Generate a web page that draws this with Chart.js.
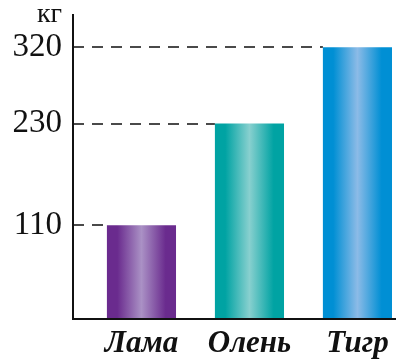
<!DOCTYPE html>
<html lang="ru">
<head>
<meta charset="UTF-8">
<title>Масса животных</title>
<script src="https://cdn.jsdelivr.net/npm/chart.js"></script>
<style>
  html, body { margin: 0; padding: 0; background: #fff; }
  #wrap { width: 396px; height: 362px; }
</style>
</head>
<body>
<div id="wrap"><canvas id="massChart" width="396" height="362"></canvas></div>
<script>
// data
const animals = ['Лама', 'Олень', 'Тигр'];
const masses = [110, 230, 320];
const tickValues = [110, 230, 320];
const unitLabel = 'кг';
const yTop = 358;

// bar colours: edge shade and the light stripe in the middle
const barEdge = ['#6a2b8e', '#00a3a3', '#008fd4'];
const barLight = ['#aa91c5', '#88d0cf', '#8cbbe7'];
const BAR_W = 0.64;

function barFill(c) {
  const i = c.dataIndex;
  if (i === undefined) return barEdge[0];
  const chart = c.chart;
  const xs = chart.scales.x;
  if (!chart.chartArea || !xs) return barEdge[i];
  const cx = xs.getPixelForValue(i);
  const half = (xs.getPixelForValue(BAR_W) - xs.getPixelForValue(0)) / 2;
  const g = chart.ctx.createLinearGradient(cx - half, 0, cx + half, 0);
  g.addColorStop(0, barEdge[i]);
  g.addColorStop(0.15, barEdge[i]);
  g.addColorStop(0.5, barLight[i]);
  g.addColorStop(0.85, barEdge[i]);
  g.addColorStop(1, barEdge[i]);
  return g;
}

// dashed guides from the axis to the left side of each bar
const guideLines = {
  id: 'guideLines',
  beforeDatasetsDraw(chart) {
    const ctx = chart.ctx;
    const ys = chart.scales.y;
    const meta = chart.getDatasetMeta(0);
    ctx.save();
    ctx.strokeStyle = '#4a4a4a';
    ctx.lineWidth = 2;
    ctx.setLineDash([11, 8]);
    tickValues.forEach((v, i) => {
      const el = meta.data[i];
      const y = Math.round(ys.getPixelForValue(v));
      ctx.beginPath();
      ctx.moveTo(chart.chartArea.left, y);
      ctx.lineTo(el.x - el.width / 2, y);
      ctx.stroke();
    });
    ctx.restore();
  }
};

const serif = "'Liberation Serif', 'Times New Roman', serif";

new Chart(document.getElementById('massChart'), {
  type: 'bar',
  data: {
    datasets: [{
      data: masses.map((v, i) => ({ x: i, y: v })),
      backgroundColor: barFill,
      borderWidth: 0,
      barPercentage: BAR_W,
      categoryPercentage: 1
    }]
  },
  options: {
    responsive: false,
    animation: false,
    layout: { padding: { top: 15, right: 0, bottom: 0, left: 0 } },
    plugins: { legend: { display: false }, tooltip: { enabled: false } },
    scales: {
      x: {
        type: 'linear',
        offset: false,
        min: -0.634,
        max: 2.357,
        grid: { display: false, drawTicks: false, offset: false },
        border: { display: true, color: '#111', width: 2, z: 1 },
        afterBuildTicks: s => { s.ticks = animals.map((_, i) => ({ value: i })); },
        afterFit: s => { s.height = 43.5; s.paddingLeft = 0; s.paddingRight = 0; },
        ticks: {
          padding: 7,
          color: '#111',
          autoSkip: false,
          maxRotation: 0,
          font: { family: serif, size: 31, style: 'italic', weight: 'bold' },
          callback: v => animals[v]
        }
      },
      y: {
        min: 0,
        max: yTop,
        grid: { display: false, drawTicks: false },
        border: { display: true, color: '#111', width: 2, z: 1 },
        afterBuildTicks: s => { s.ticks = tickValues.concat([yTop]).map(v => ({ value: v })); },
        afterFit: s => { s.width = 73; s.paddingTop = 0; s.paddingBottom = 0; },
        ticks: {
          padding: 11,
          color: '#111',
          autoSkip: false,
          font: c => (c.tick && c.tick.value === yTop)
            ? { family: serif, size: 28 }
            : { family: serif, size: 33 },
          callback: v => v === yTop ? unitLabel : String(v)
        }
      }
    }
  },
  plugins: [guideLines]
});
</script>
</body>
</html>
